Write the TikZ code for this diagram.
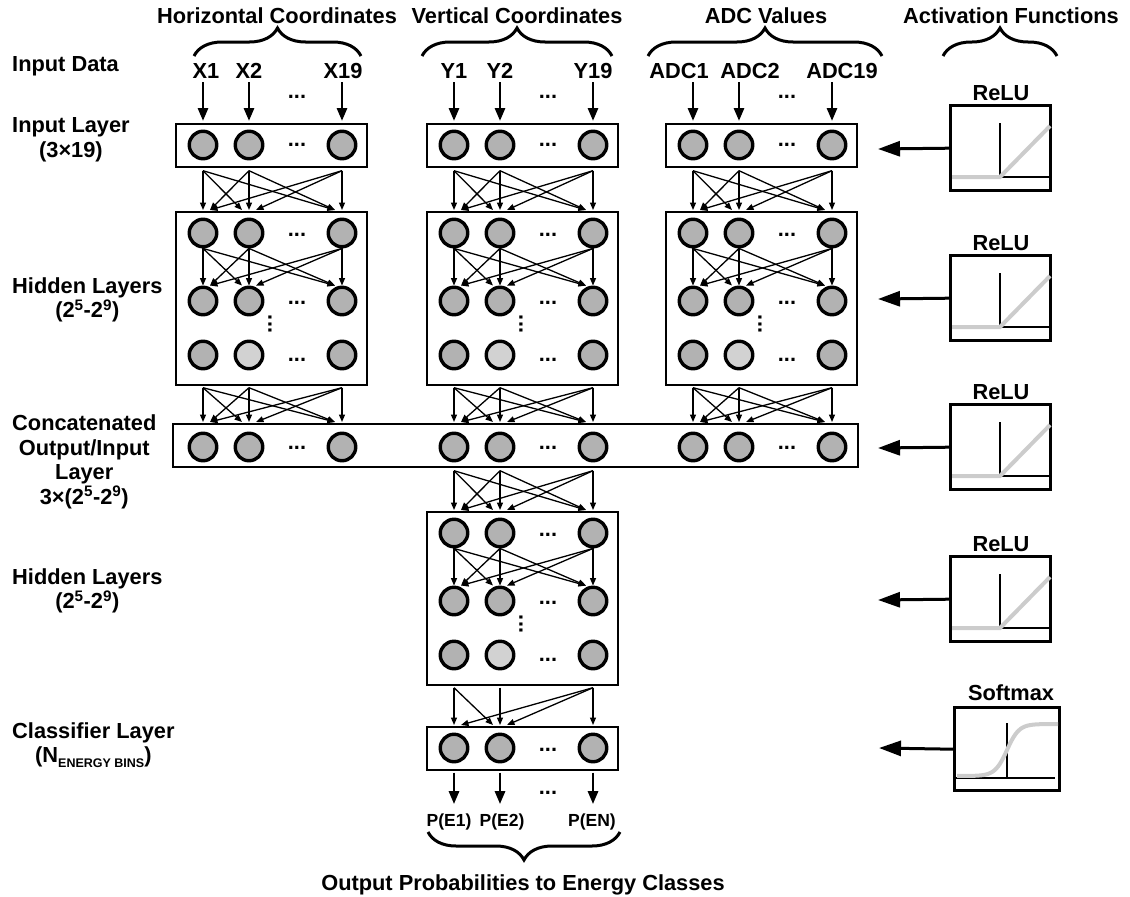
\documentclass[tikz,border=0pt]{standalone}
\usepackage{fontspec}
\setmainfont{Liberation Sans}
\usetikzlibrary{arrows.meta, positioning, calc, decorations.pathreplacing}

\definecolor{unitgray}{RGB}{178,178,178}
\definecolor{unitlight}{RGB}{210,210,210}
\definecolor{curvegray}{RGB}{204,204,204}

\newcommand{\labfont}{\fontsize{21.8}{24.5}\selectfont\bfseries}

\begin{document}
\begin{tikzpicture}[x=1pt, y=-1pt,
  unit/.style={circle, draw, line width=3.4pt, fill=unitgray, minimum size=27.5pt, inner sep=0pt},
  layer/.style={draw, line width=1.7pt, anchor=north west, minimum width=191pt, inner sep=0pt},
  txt/.style={font=\labfont, align=center, inner sep=0pt},
  ptxt/.style={font=\fontsize{17.5}{20}\selectfont\bfseries, anchor=base, inner sep=0pt},
  dotsn/.style={font=\labfont, inner sep=0pt},
  vdotsn/.style={font=\labfont, inner sep=0pt, rotate=90},
  feed/.style={-{Triangle[length=7.5pt, width=6pt]}, line width=1.3pt},
  inarrow/.style={-{Triangle[length=13pt, width=10pt]}, line width=2.8pt},
  actarrow/.style={-{Triangle[length=22pt, width=15pt]}, line width=3pt},
  brace/.style={decorate, decoration={brace, amplitude=28pt}, line width=3pt},
  actbox/.style={draw, line width=3.4pt, anchor=north west, minimum width=100pt, minimum height=85pt, inner sep=0pt},
  curve/.style={curvegray, line width=4pt}
]
\useasboundingbox (0,0) rectangle (1130,897);

% Headers and braces
\node[txt, anchor=base] (hhor) at (277,23) {Horizontal Coordinates};
\node[txt, anchor=base] (hver) at (517,23) {Vertical Coordinates};
\node[txt, anchor=base] (hadc) at (766,23) {ADC Values};
\node[txt, anchor=base] (hact) at (1011,23) {Activation Functions};
\draw[brace] (194,56) -- (361,56);
\draw[brace] (422,56) -- (612,56);
\draw[brace] (648,56) -- (882,56);
\draw[brace] (943,56) -- (1057,56);

% Row labels
\node[txt, anchor=west] (ldata) at (12,66) {Input Data};
\node[txt, anchor=west] (lin) at (12,140) {Input Layer\\(3×19)};
\node[txt, anchor=west] (lhid) at (12,300) {Hidden Layers\\(2\textsuperscript{5}-2\textsuperscript{9})};
\node[txt, anchor=west] (lcat) at (12,462) {Concatenated\\Output/Input\\Layer\\3×(2\textsuperscript{5}-2\textsuperscript{9})};
\node[txt, anchor=west] (lhidb) at (12,591) {Hidden Layers\\(2\textsuperscript{5}-2\textsuperscript{9})};
\node[txt, anchor=west] (lcls) at (12,745) {Classifier Layer\\(N\raisebox{-5pt}{\fontsize{12.5}{13}\selectfont ENERGY BINS})};

% Concatenated layer spans all three columns
\node[layer, minimum width=685pt, minimum height=43pt] (cat) at (172,423) {};

% Three input columns
\foreach \col/\xl in {1/175, 2/426, 3/665} {
  \node[layer, minimum height=43pt] (in\col) at (\xl,123) {};
  \node[layer, minimum height=173pt] (hid\col) at (\xl,211) {};
  \foreach \k/\dx in {1/28, 2/74, 3/167} {
    \node[unit] (i-\col-\k) at (\xl+\dx,145) {};
    \node[unit] (h-\col-1-\k) at (\xl+\dx,233) {};
    \node[unit] (h-\col-2-\k) at (\xl+\dx,301) {};
    \node[unit] (k-\col-\k) at (\xl+\dx,447) {};
  }
  \node[unit] (h-\col-3-1) at (\xl+28,355) {};
  \node[unit, fill=unitlight] (h-\col-3-2) at (\xl+74,355) {};
  \node[unit] (h-\col-3-3) at (\xl+167,355) {};
  \foreach \yy in {97,145,235,303,360,448} \node[dotsn] (d-\col-\yy) at (\xl+122,\yy) {...};
  \node[vdotsn] (v-\col) at (\xl+95,324) {...};
  \foreach \a in {1,2,3} \foreach \b in {1,2,3} {
    \pgfmathsetmacro\dxo{7*sign(\a-\b)}
    \draw[feed] ($(i-\col-\a |- in\col.south)+(0,3)$) -- ($(h-\col-1-\b |- hid\col.north)+(\dxo,-1)$);
    \draw[feed] (h-\col-1-\a.south) -- ($(h-\col-2-\b.north)+(\dxo,0)$);
    \draw[feed] ($(h-\col-3-\a |- hid\col.south)+(0,2)$) -- ($(k-\col-\b |- cat.north)+(\dxo,-1)$);
  }
}

% Input data
\foreach \col/\k/\lbl/\px in {1/1/X1/206, 1/2/X2/249, 1/3/X19/343, 2/1/Y1/454, 2/2/Y2/500, 2/3/Y19/593, 3/1/ADC1/679, 3/2/ADC2/750, 3/3/ADC19/842} {
  \node[txt, anchor=base] (x-\col-\k) at (\px,78) {\lbl};
  \draw[inarrow] ($(x-\col-\k.south -| i-\col-\k)+(0,4)$) -- ($(i-\col-\k |- in\col.north)+(0,-2)$);
}

% Second hidden block and classifier
\node[layer, minimum height=173pt] (hidB) at (426,511) {};
\node[layer, minimum height=43pt] (cls) at (426,726) {};
\foreach \k/\dx in {1/28, 2/74, 3/167} {
  \node[unit] (g-1-\k) at (426+\dx,533) {};
  \node[unit] (g-2-\k) at (426+\dx,601) {};
  \node[unit] (o-\k) at (426+\dx,748) {};
}
\node[unit] (g-3-1) at (454,655) {};
\node[unit, fill=unitlight] (g-3-2) at (500,655) {};
\node[unit] (g-3-3) at (593,655) {};
\foreach \yy in {535,603,660,750,793} \node[dotsn] (e-\yy) at (548,\yy) {...};
\node[vdotsn] (vB) at (521,624) {...};
\foreach \a in {1,2,3} \foreach \b in {1,2,3} {
  \pgfmathsetmacro\dxo{7*sign(\a-\b)}
  \draw[feed] ($(k-2-\a |- cat.south)+(0,3)$) -- ($(g-1-\b |- hidB.north)+(\dxo,-1)$);
  \draw[feed] (g-1-\a.south) -- ($(g-2-\b.north)+(\dxo,0)$);
}
\foreach \a/\b in {1/1, 1/2, 2/2, 3/1, 3/2, 3/3} {
  \pgfmathsetmacro\dxo{7*sign(\a-\b)}
  \draw[feed] ($(g-3-\a |- hidB.south)+(0,2)$) -- ($(o-\b |- cls.north)+(\dxo,-1)$);
}

% Outputs
\foreach \k/\lbl/\px in {1/P(E1)/449, 2/P(E2)/502, 3/P(EN)/592} {
  \node[ptxt] (p-\k) at (\px,826) {\lbl};
  \draw[inarrow] ($(o-\k |- cls.south)+(0,2)$) -- ($(o-\k |- p-\k.north)+(0,-9)$);
}
\draw[brace] (620,832) -- (428,832);
\node[txt, anchor=base] (outt) at (523,890) {Output Probabilities to Energy Classes};

% Activation functions
\foreach \n/\ay in {1/149, 2/299, 3/448, 4/600} {
  \node[actbox] (act\n) at (949,\ay-45) {};
  \node[txt, anchor=base] (actt\n) at (1001,\ay-49) {ReLU};
  \coordinate (tip\n) at (878,\ay);
  \draw[actarrow] (act\n.west) -- (tip\n);
  \begin{scope}[shift={(act\n.north west)}]
    \draw[line width=1.3pt] (51,19) -- (51,73) (3,73) -- (101,73);
    \draw[curve] (3,73) -- (51,73) -- (101,22);
  \end{scope}
}
\node[actbox, minimum width=105pt, minimum height=83pt] (act5) at (953,706) {};
\node[txt, anchor=base] (actt5) at (1011,700) {Softmax};
\coordinate (tip5) at (879,748);
\draw[actarrow] (act5.west) -- (tip5);
\begin{scope}[shift={(act5.north west)}]
  \draw[line width=1.3pt] (54,17) -- (54,72) (2,72) -- (102,72);
  \draw[curve] plot[domain=-50:51, samples=60] ({54+\x},{44-26*tanh(\x/12)});
\end{scope}
\end{tikzpicture}
\end{document}
